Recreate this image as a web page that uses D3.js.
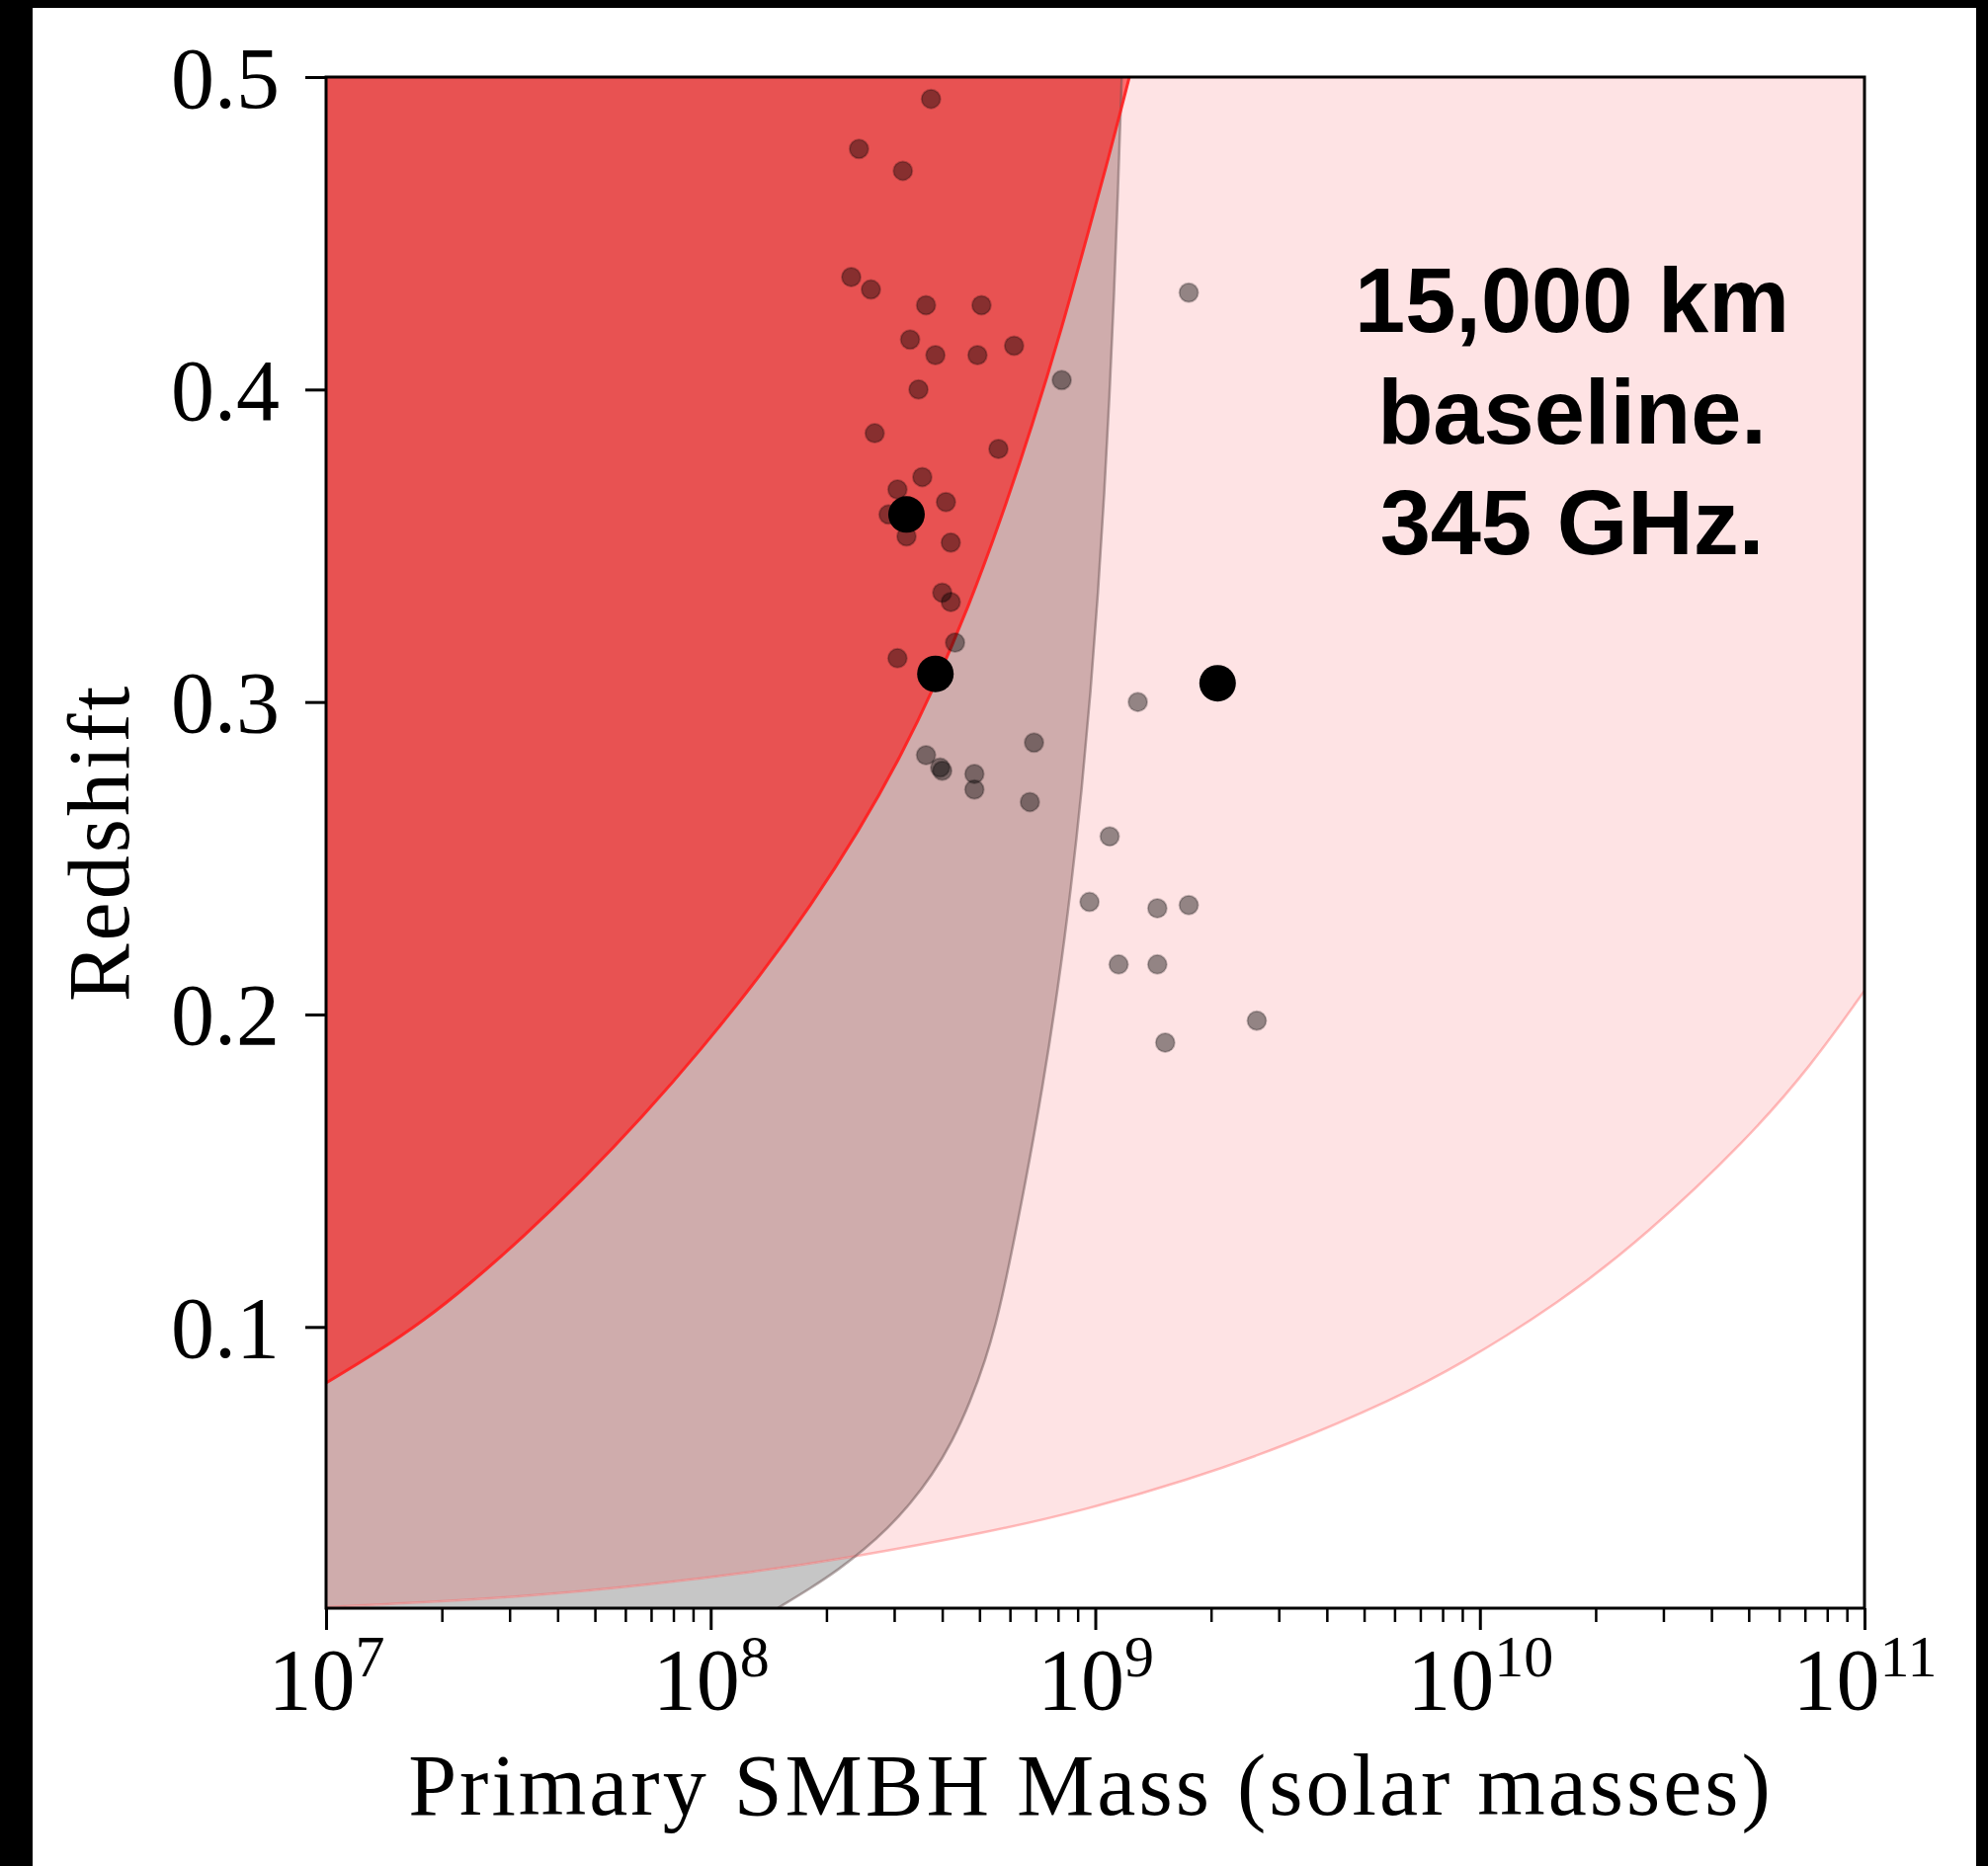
<!DOCTYPE html>
<html>
<head>
<meta charset="utf-8">
<script src="https://cdn.jsdelivr.net/npm/d3@7"></script>
<style>
  html, body { margin: 0; padding: 0; background: #000; }
  svg { display: block; }
</style>
</head>
<body>
<svg id="chart" width="2012" height="1889"></svg>
<script>
// ---------------- data ----------------
const xTickDecades = [7, 8, 9, 10, 11];
const yTickValues = [0.1, 0.2, 0.3, 0.4, 0.5];

// Red region boundary (log10 mass, redshift)
const redCurveLogM = [7.0000, 7.1285, 7.2569, 7.3674, 7.5138, 7.6680, 7.8221, 7.9762, 8.1304, 8.2588,
                      8.3873, 8.4901, 8.5800, 8.6699, 8.7547, 8.8369, 8.9140, 8.9782, 9.0347, 9.0887];
const redCurveZ    = [0.0821, 0.0916, 0.1023, 0.1131, 0.1289, 0.1472, 0.1671, 0.1889, 0.2126, 0.2345,
                      0.2591, 0.2816, 0.3043, 0.3302, 0.3584, 0.3887, 0.4200, 0.4488, 0.4741, 0.5000];

// Grey region boundary (log10 mass, redshift)
const greyCurveLogM = [8.1741, 8.2588, 8.3320, 8.3988, 8.4610, 8.5178, 8.5764, 8.6272, 8.6745, 8.7161,
                       8.7413, 8.7660, 8.8174, 8.8636, 8.9034, 8.9368, 8.9651, 8.9882, 9.0075, 9.0236,
                       9.0373, 9.0488, 9.0586, 9.0689];
const greyCurveZ    = [0.0100, 0.0163, 0.0223, 0.0287, 0.0356, 0.0432, 0.0527, 0.0631, 0.0758, 0.0900,
                       0.1010, 0.1137, 0.1453, 0.1769, 0.2085, 0.2401, 0.2718, 0.3034, 0.3350, 0.3666,
                       0.3982, 0.4298, 0.4614, 0.5000];

// Pink region lower boundary (log10 mass, redshift)
const pinkCurveLogM = [7.0000, 7.5138, 7.8555, 8.1124, 8.3359, 8.7213, 8.9782, 9.2351, 9.4920, 9.7746,
                       9.9467, 10.2036, 10.4348, 10.6917, 10.8613, 11.0000];
const pinkCurveZ    = [0.0103, 0.0135, 0.0177, 0.0216, 0.0256, 0.0342, 0.0416, 0.0508, 0.0618, 0.0768,
                       0.0878, 0.1074, 0.1296, 0.1596, 0.1836, 0.2076];

// Small (translucent) points
const smallMass = [3.74e8, 2.43e8, 3.16e8, 2.32e8, 2.61e8, 3.63e8, 5.06e8, 3.30e8, 3.84e8, 4.94e8,
                   6.15e8, 8.18e8, 3.47e8, 2.67e8, 5.60e8, 3.55e8, 3.06e8, 3.23e8, 2.90e8, 4.09e8,
                   4.21e8, 4.00e8, 4.21e8, 4.32e8, 3.06e8, 1.29e9, 6.93e8, 3.63e8, 4.00e8, 3.95e8,
                   4.85e8, 4.85e8, 6.76e8, 1.09e9, 9.66e8, 1.45e9, 1.75e9, 1.15e9, 1.45e9, 2.63e9,
                   1.52e9, 1.75e9];
const smallZ    = [0.493, 0.477, 0.470, 0.436, 0.432, 0.427, 0.427, 0.416, 0.411, 0.411,
                   0.414, 0.403, 0.400, 0.386, 0.381, 0.372, 0.368, 0.353, 0.360, 0.364,
                   0.351, 0.335, 0.332, 0.319, 0.314, 0.300, 0.287, 0.283, 0.278, 0.279,
                   0.277, 0.272, 0.268, 0.257, 0.236, 0.234, 0.235, 0.216, 0.216, 0.198,
                   0.191, 0.431];

// Large black points
const bigMass = [3.23e8, 3.84e8, 2.08e9];
const bigZ    = [0.360, 0.309, 0.306];

const annotationLines = ["15,000 km", "baseline.", "345 GHz."];
const xLabel = "Primary SMBH Mass (solar masses)";
const yLabel = "Redshift";

(function () {
const W = 2012, H = 1889;
const pL = 330, pR = 1887, pT = 78, pB = 1628;

const svg = d3.select("#chart");
svg.append("rect").attr("x", 0).attr("y", 0).attr("width", W).attr("height", H).attr("fill", "#000");
svg.append("rect").attr("x", 33).attr("y", 8).attr("width", 2000 - 33).attr("height", H - 8).attr("fill", "#fff");

const x = d3.scaleLog().domain([1e7, 1e11]).range([pL, pR]);
const y = d3.scaleLinear().domain([0.01, 0.5]).range([pB, pT]);

const zip = (ms, zs) => ms.map((m, i) => ({ m: Math.pow(10, m), z: zs[i] }));
const redPts = zip(redCurveLogM, redCurveZ);
const greyPts = zip(greyCurveLogM, greyCurveZ);
const pinkPts = zip(pinkCurveLogM, pinkCurveZ);

const defs = svg.append("defs");
defs.append("clipPath").attr("id", "plotClip")
  .append("rect").attr("x", pL).attr("y", pT).attr("width", pR - pL).attr("height", pB - pT);

const smooth = d3.curveBasis;

const pinkArea = d3.area().curve(smooth)
  .x(d => x(d.m)).y0(d => y(d.z)).y1(y(0.5) - 10);
const belowPinkArea = d3.area().curve(smooth)
  .x(d => x(d.m)).y0(d => y(d.z)).y1(y(0.01) + 10);

defs.append("clipPath").attr("id", "pinkClip").append("path").attr("d", pinkArea(pinkPts));
defs.append("clipPath").attr("id", "belowPinkClip").append("path").attr("d", belowPinkArea(pinkPts));

const sideArea = d3.area().curve(smooth)
  .y(d => y(d.z)).x0(x(1e7) - 10).x1(d => x(d.m));

const plot = svg.append("g").attr("clip-path", "url(#plotClip)");

plot.append("path").attr("d", pinkArea(pinkPts)).attr("fill", "#fee3e4");
plot.append("g").attr("clip-path", "url(#pinkClip)")
  .append("path").attr("d", sideArea(greyPts)).attr("fill", "#cfacac");
plot.append("g").attr("clip-path", "url(#belowPinkClip)")
  .append("path").attr("d", sideArea(greyPts)).attr("fill", "#c6c6c6");
plot.append("path").attr("d", sideArea(redPts)).attr("fill", "rgb(255,0,0)").attr("fill-opacity", 0.52);

const line = d3.line().curve(smooth).x(d => x(d.m)).y(d => y(d.z));
plot.append("path").attr("d", line(pinkPts)).attr("fill", "none")
  .attr("stroke", "rgba(255,110,110,0.45)").attr("stroke-width", 2.5);
plot.append("path").attr("d", line(greyPts)).attr("fill", "none")
  .attr("stroke", "rgba(110,85,85,0.5)").attr("stroke-width", 2.5);
plot.append("path").attr("d", line(redPts)).attr("fill", "none")
  .attr("stroke", "rgba(255,30,30,0.9)").attr("stroke-width", 3);

const small = smallMass.map((m, i) => ({ m, z: smallZ[i] }));
plot.append("g").selectAll("circle").data(small).join("circle")
  .attr("cx", d => x(d.m)).attr("cy", d => y(d.z)).attr("r", 9.5)
  .attr("fill", "rgba(0,0,0,0.42)")
  .attr("stroke", "rgba(0,0,0,0.22)").attr("stroke-width", 2);

const big = bigMass.map((m, i) => ({ m, z: bigZ[i] }));
plot.append("g").selectAll("circle").data(big).join("circle")
  .attr("cx", d => x(d.m)).attr("cy", d => y(d.z)).attr("r", 18.5)
  .attr("fill", "#000");

// ---------------- axes ----------------
const serif = "'Liberation Serif', 'DejaVu Serif', serif";

const majors = xTickDecades.map(e => Math.pow(10, e));
const minors = [];
for (let e = 7; e < 11; e++) for (let k = 2; k <= 9; k++) minors.push(k * Math.pow(10, e));

const gxMinor = svg.append("g").attr("transform", `translate(0,${pB})`)
  .call(d3.axisBottom(x).tickValues(minors).tickSize(14).tickFormat(() => ""));
gxMinor.select(".domain").remove();
gxMinor.selectAll(".tick line").attr("stroke", "#000").attr("stroke-width", 2.5);

const gx = svg.append("g").attr("transform", `translate(0,${pB})`)
  .call(d3.axisBottom(x).tickValues(majors).tickSize(22).tickFormat(() => ""));
gx.select(".domain").remove();
gx.selectAll(".tick line").attr("stroke", "#000").attr("stroke-width", 3);
gx.selectAll(".tick text")
  .attr("y", 102).attr("dy", null)
  .attr("font-family", serif).attr("font-size", 88).attr("fill", "#000")
  .attr("text-anchor", "middle")
  .each(function(d) {
    const t = d3.select(this);
    t.text(null);
    t.append("tspan").text("10");
    t.append("tspan").attr("font-size", 60).attr("dy", -33).text(String(Math.round(Math.log10(d))));
  });

const gy = svg.append("g").attr("transform", `translate(${pL},0)`)
  .call(d3.axisLeft(y).tickValues(yTickValues).tickSize(21).tickPadding(26).tickFormat(d3.format(".1f")));
gy.select(".domain").remove();
gy.selectAll(".tick line").attr("stroke", "#000").attr("stroke-width", 3);
gy.selectAll(".tick text")
  .attr("dy", 30)
  .attr("font-family", serif).attr("font-size", 88).attr("fill", "#000");

svg.append("rect").attr("x", pL).attr("y", pT).attr("width", pR - pL).attr("height", pB - pT)
  .attr("fill", "none").attr("stroke", "#000").attr("stroke-width", 3);

svg.append("text").attr("x", 1104).attr("y", 1837)
  .attr("text-anchor", "middle").attr("font-family", serif).attr("font-size", 88)
  .attr("letter-spacing", 3).attr("fill", "#000").text(xLabel);

svg.append("text").attr("transform", "translate(130,853) rotate(-90)")
  .attr("text-anchor", "middle").attr("font-family", serif).attr("font-size", 88)
  .attr("letter-spacing", 3).attr("fill", "#000").text(yLabel);

const annY = [336, 449, 561];
annotationLines.forEach((s, i) => {
  svg.append("text").attr("x", 1591).attr("y", annY[i])
    .attr("text-anchor", "middle")
    .attr("font-family", "'Liberation Sans', Arial, Helvetica, sans-serif")
    .attr("font-weight", "bold").attr("font-size", 92).attr("fill", "#000")
    .text(s);
});
})();
</script>
</body>
</html>
